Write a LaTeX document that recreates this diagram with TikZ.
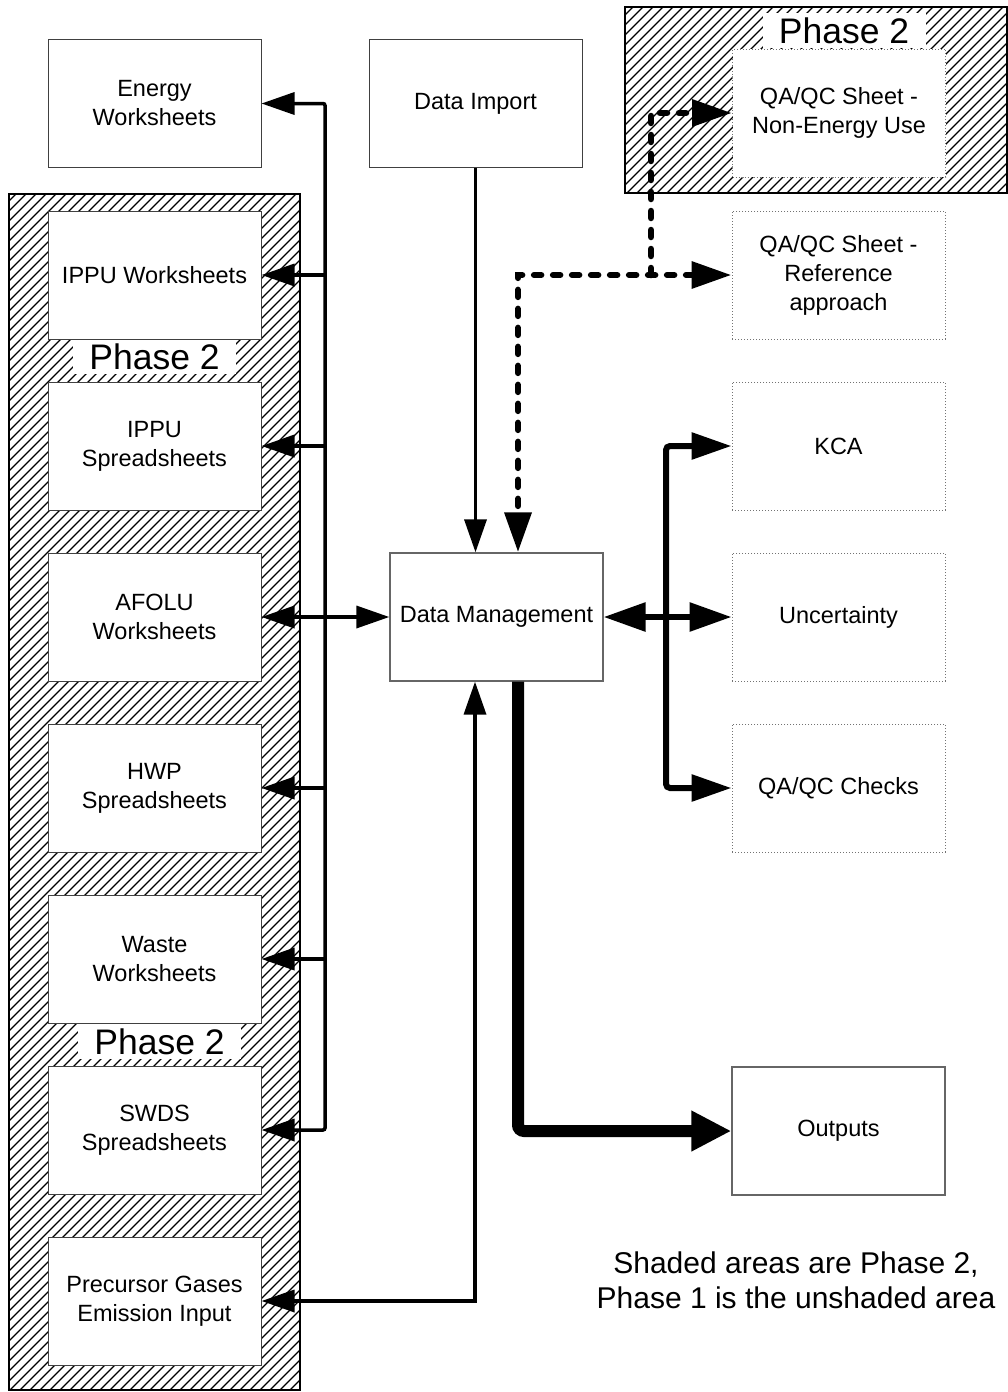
\documentclass[tikz,border=0pt]{standalone}
\usepackage{fontspec}
\setmainfont{Liberation Sans}
\usetikzlibrary{arrows.meta}
\tikzset{
  TS/.tip={Triangle[length=33pt,width=22pt]},
  TM/.tip={Triangle[length=42pt,width=28pt]},
  TD/.tip={Triangle[length=40pt,width=26pt]},
  TL/.tip={Triangle[length=40pt,width=38pt]},
}
\begin{document}
\begin{tikzpicture}[x=1pt,y=-1pt,
  box/.style={draw=black!75, line width=1pt, fill=white, minimum width=213pt,
    minimum height=128pt, align=center, inner sep=0pt,
    font=\fontsize{23.5}{29}\selectfont},
  dbox/.style={box, draw=black!55, dotted},
  gbox/.style={box, draw=black!60, line width=1.3pt},
  phaselabel/.style={fill=white, inner sep=0pt, minimum width=163pt,
    minimum height=35pt, font=\fontsize{35.5}{40}\selectfont},
  conn/.style={line width=3.5pt},
  fat/.style={line width=6pt},
  dotc/.style={line width=6.5pt, dash pattern=on 7pt off 12pt, line cap=round},
  hatch/.style={line width=1.2pt},
  panel/.style={line width=2pt},
]
\useasboundingbox (0,0) rectangle (1008,1392);

% hatched Phase 2 areas
\begin{scope}
  \clip (9,194) rectangle (300,1390) (625,7) rectangle (1007,193);
  \foreach \i in {-1400,-1390,...,1010} \draw[hatch] (\i,1400) -- ++(1400,-1400);
\end{scope}
\draw[panel] (9,194) rectangle (300,1390);
\draw[panel] (625,7) rectangle (1007,193);

% phase labels
\node[phaselabel] (ph1) at (844,30.5) {Phase 2};
\node[phaselabel] (ph2) at (154.5,356.5) {Phase 2};
\node[phaselabel] (ph3) at (159.5,1041.5) {Phase 2};

% left column
\node[box] (energy) at (154.5,103.5) {Energy\\Worksheets};
\node[box] (ippuw) at (154.5,275) {IPPU Worksheets};
\node[box] (ippus) at (154.5,446) {IPPU\\Spreadsheets};
\node[box] (afolu) at (154.5,617) {AFOLU\\Worksheets};
\node[box] (hwp) at (154.5,788) {HWP\\Spreadsheets};
\node[box] (waste) at (154.5,959) {Waste\\Worksheets};
\node[box] (swds) at (154.5,1130) {SWDS\\Spreadsheets};
\node[box] (prec) at (154.5,1301) {Precursor Gases\\Emission Input};

% middle
\node[box] (imp) at (475.5,103.5) {Data Import};
\node[gbox] (dm) at (496.5,617) {Data Management};

% right column
\node[dbox] (ne) at (839,113) {QA/QC Sheet -\\Non-Energy Use};
\node[dbox] (ref) at (838.5,275) {QA/QC Sheet -\\Reference\\approach};
\node[dbox] (kca) at (838.5,446) {KCA};
\node[dbox] (unc) at (838.5,617) {Uncertainty};
\node[dbox] (qac) at (838.5,788) {QA/QC Checks};
\node[gbox] (out) at (838.5,1131) {Outputs};

% note
\node[align=center, font=\fontsize{30}{35}\selectfont] (note) at (796,1280)
  {Shaded areas are Phase 2,\\Phase 1 is the unshaded area};

% left bus
\coordinate (bus) at (325,617);
\draw[conn, {TS}-{TS}, rounded corners=2pt] (energy.east) -| (bus) |- (swds.east);
\foreach \b in {ippuw,ippus,hwp,waste}
  \draw[conn, -{TS}] (\b.east -| bus) -- (\b.east);
\draw[conn, {TS}-{TS}] (afolu.east) -- (dm.west);

% data import
\draw[conn, -{TS}] (imp.south) -- (imp.south |- dm.north);

% precursor
\draw[conn, {TS}-{TS}] ([xshift=-21.5pt]dm.south) |- (prec.east);

% outputs
\draw[line width=12pt, -{TL}, rounded corners=6pt] ([xshift=21.5pt]dm.south) |- (out.west);

% right bus
\draw[fat, {TM}-{TM}] (dm.east) -- (unc.west);
\coordinate (rbus) at (666,617);
\draw[fat, {TD}-{TD}, rounded corners=4pt] (kca.west) -| (rbus) |- (qac.west);

% dotted QA/QC links
\draw[dotc, {TD}-{TD}] (ref.west) -| ([xshift=21.5pt]dm.north);
\coordinate (dj) at (651,275);
\draw[dotc, -{TD}] (dj) |- (ne.west);
\end{tikzpicture}
\end{document}
